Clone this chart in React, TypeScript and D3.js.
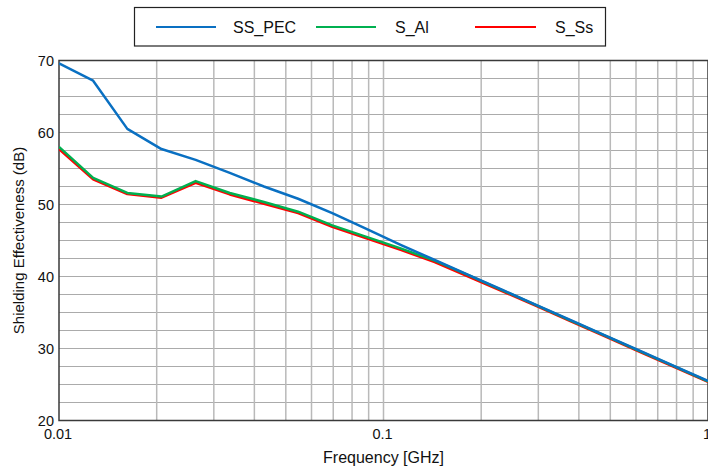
import React from "react";
import * as d3 from "d3";

// frequency points (GHz), 20 log-spaced samples read from the kinks
const freqs = [
  0.01, 0.01274, 0.01624, 0.02069, 0.02637, 0.0336, 0.04281, 0.05456, 0.06952, 0.08859,
  0.1129, 0.1438, 0.1833, 0.2336, 0.2976, 0.3793, 0.4833, 0.6158, 0.7848, 1.0,
];

const ssPec = [
  69.6, 67.2, 60.5, 57.7, 56.2, 54.4, 52.5, 50.8, 48.8, 46.6,
  44.4, 42.3, 40.2, 38.1, 36.0, 33.9, 31.8, 29.7, 27.6, 25.5,
];
const sAl = [
  58.0, 53.7, 51.6, 51.1, 53.25, 51.6, 50.35, 49.0, 47.1, 45.5,
  43.9, 42.2, 40.15, 38.05, 35.95, 33.85, 31.75, 29.65, 27.55, 25.45,
];
const sSs = [
  57.7, 53.5, 51.45, 50.95, 53.0, 51.4, 50.1, 48.8, 46.9, 45.3,
  43.7, 42.0, 39.95, 37.9, 35.85, 33.75, 31.65, 29.55, 27.45, 25.35,
];

const seriesNames = ["SS_PEC", "S_Al", "S_Ss"];
const seriesColors = ["#0a70c2", "#00b050", "#ff0000"];
const seriesData = [ssPec, sAl, sSs];

const yTicks = [20, 30, 40, 50, 60, 70];
const xTickLabels = [
  { v: 0.01, t: "0.01" },
  { v: 0.1, t: "0.1" },
  { v: 1, t: "1" },
];

const W = 708;
const H = 469;
const left = 59;
const right = 708;
const top = 60.5;
const bottom = 420.5;

const App = () => {
  const x = d3.scaleLog().domain([0.01, 1]).range([left, right]);
  const y = d3.scaleLinear().domain([20, 70]).range([bottom, top]);

  // minor grid: 2..9 in every decade
  const vGrid: number[] = [];
  [0.01, 0.1].forEach((d) => {
    for (let k = 2; k <= 9; k++) vGrid.push(d * k);
  });
  const hGrid = d3.range(20, 70.01, 2.5);

  const line = (vals: number[]) =>
    d3
      .line<number>()
      .x((_, i) => x(freqs[i]))
      .y((d) => y(d))(vals) || "";

  const font = "'Liberation Sans', Arial, sans-serif";

  // legend entries positions
  const legendItems = [
    { x1: 156, x2: 216, tx: 233 },
    { x1: 316, x2: 376, tx: 395 },
    { x1: 475, x2: 536, tx: 555 },
  ];

  // draw order: red, green, blue on top
  const order = [2, 1, 0];

  return (
    <svg
      width={W}
      height={H}
      style={{ position: "absolute", left: 0, top: 0, background: "#fff" }}
      fontFamily={font}
    >
      <defs>
        <clipPath id="plot">
          <rect x={left} y={top} width={right - left} height={bottom - top} />
        </clipPath>
      </defs>

      {/* grid */}
      {hGrid.map((v) => (
        <line key={"h" + v} x1={left} x2={right} y1={y(v)} y2={y(v)} stroke="#ababab" strokeWidth={1.2} />
      ))}
      {vGrid.map((v) => (
        <line key={"v" + v} x1={x(v)} x2={x(v)} y1={top} y2={bottom} stroke="#b9b9b9" strokeWidth={1.5} />
      ))}
      <line x1={x(0.1)} x2={x(0.1)} y1={top} y2={bottom} stroke="#b9b9b9" strokeWidth={1.5} />

      {/* frame */}
      <rect x={left} y={top} width={right - left} height={bottom - top} fill="none" stroke="#3a3a3a" strokeWidth={1.5} />

      {/* series */}
      <g clipPath="url(#plot)">
        {order.map((i) => (
          <path key={seriesNames[i]} d={line(seriesData[i])} fill="none" stroke={seriesColors[i]} strokeWidth={2.5} strokeLinejoin="round" />
        ))}
      </g>

      {/* y ticks */}
      {yTicks.map((v) => (
        <text key={"yt" + v} x={54} y={y(v)} dy="0.36em" textAnchor="end" fontSize={14.5} fill="#111">
          {v}
        </text>
      ))}
      {/* x ticks */}
      {xTickLabels.map((d) => (
        <text key={"xt" + d.t} x={x(d.v) - 1} y={439} textAnchor="middle" fontSize={14.5} fill="#111">
          {d.t}
        </text>
      ))}

      {/* axis titles */}
      <text x={(left + right) / 2} y={463} textAnchor="middle" fontSize={16} fill="#111">
        Frequency [GHz]
      </text>
      <text
        transform={`translate(23.5, ${(top + bottom) / 2}) rotate(-90)`}
        textAnchor="middle"
        fontSize={15}
        fill="#111"
      >
        Shielding Effectiveness (dB)
      </text>

      {/* legend */}
      <rect x={134.5} y={7.5} width={471} height={38.5} fill="#fff" stroke="#222" strokeWidth={1.2} />
      {legendItems.map((l, i) => (
        <g key={"lg" + i}>
          <line x1={l.x1} x2={l.x2} y1={27} y2={27} stroke={seriesColors[i]} strokeWidth={2.2} />
          <text x={l.tx} y={27} dy="0.36em" fontSize={16} fill="#111">
            {seriesNames[i]}
          </text>
        </g>
      ))}
    </svg>
  );
};

export default App;
